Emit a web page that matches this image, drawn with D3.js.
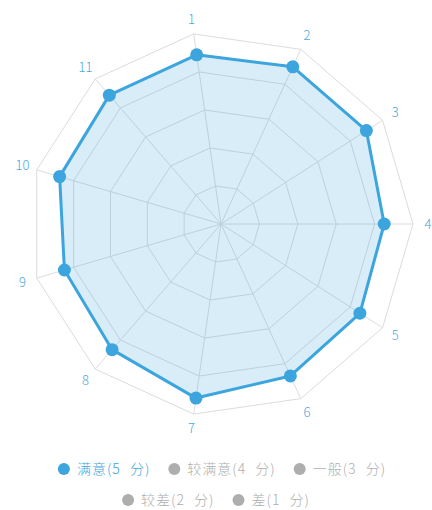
<!DOCTYPE html>
<html lang="zh">
<head>
    <meta charset="UTF-8">
    <title>满意度雷达图</title>
    <script src="https://d3js.org/d3.v7.min.js"></script>
    <style>
        body { margin: 0; background: #fff; }
        text { font-family: "Noto Sans CJK SC", "Noto Sans", sans-serif; }
    </style>
</head>
<body>
    <svg width="432" height="510"></svg>
    <script>
        // axes 1..11, scores out of 5
        const axes = ["1", "2", "3", "4", "5", "6", "7", "8", "9", "10", "11"];
        const scores = [4.45, 4.5, 4.5, 4.25, 4.3, 4.35, 4.58, 4.33, 4.25, 4.38, 4.44];
        const maxScore = 5;
        const levels = 5;

        const legendRow1 = ["满意(5 分)", "较满意(4 分)", "一般(3 分)"];
        const legendRow2 = ["较差(2 分)", "差(1 分)"];
        const activeLegend = "满意(5 分)";

        const blue = "#3da5dd";
        const labelBlue = "#4ba8dc";
        const gridColor = "#dcdcdc";
        const grey = "#aeaeae";

        const svg = d3.select("svg");
        const cx = 221, cy = 224, R = 192;

        // axis 4 points right, going clockwise
        const startAngle = 3 * 2 * Math.PI / axes.length;
        const angle = d3.scaleLinear().domain([0, axes.length]).range([startAngle, startAngle - 2 * Math.PI]);
        const r = d3.scaleLinear().domain([0, maxScore]).range([0, R]);

        const pt = (i, rad) => [cx + rad * Math.cos(angle(i)), cy - rad * Math.sin(angle(i))];

        // grid rings
        const g = svg.append("g");
        d3.range(1, levels + 1).forEach(l => {
            const ring = axes.map((a, i) => pt(i, r(l * maxScore / levels)));
            g.append("polygon")
                .attr("points", ring.map(p => p.join(",")).join(" "))
                .attr("fill", "none")
                .attr("stroke", gridColor)
                .attr("stroke-width", 1);
        });

        g.selectAll("line.spoke")
            .data(axes)
            .enter().append("line")
            .attr("class", "spoke")
            .attr("x1", cx).attr("y1", cy)
            .attr("x2", (d, i) => pt(i, R)[0])
            .attr("y2", (d, i) => pt(i, R)[1])
            .attr("stroke", gridColor)
            .attr("stroke-width", 1);

        // axis names
        g.selectAll("text.axis")
            .data(axes)
            .enter().append("text")
            .attr("class", "axis")
            .attr("x", (d, i) => pt(i, R + 15)[0])
            .attr("y", (d, i) => pt(i, R + 15)[1])
            .attr("text-anchor", "middle")
            .attr("dy", "0.35em")
            .attr("fill", labelBlue)
            .style("font-size", "13px")
            .style("font-weight", 300)
            .text(d => d);

        // data area
        const dataPts = scores.map((v, i) => pt(i, r(v)));
        svg.append("polygon")
            .attr("points", dataPts.map(p => p.join(",")).join(" "))
            .attr("fill", blue)
            .attr("fill-opacity", 0.2)
            .attr("stroke", blue)
            .attr("stroke-width", 3)
            .attr("stroke-linejoin", "round");

        svg.append("g").selectAll("circle")
            .data(dataPts)
            .enter().append("circle")
            .attr("cx", d => d[0])
            .attr("cy", d => d[1])
            .attr("r", 6.5)
            .attr("fill", blue);

        // legend, each row centred
        function legendRow(items, y, centre) {
            const row = svg.append("g");
            let x = 0;
            items.forEach(name => {
                const on = name === activeLegend;
                const item = row.append("g").attr("transform", `translate(${x},0)`);
                item.append("circle")
                    .attr("cx", 6).attr("cy", y).attr("r", 6)
                    .attr("fill", on ? blue : grey);
                const t = item.append("text")
                    .attr("x", 19).attr("y", y)
                    .attr("dy", "0.35em")
                    .attr("fill", on ? blue : grey)
                    .style("font-size", "14px")
                    .style("font-weight", 300)
                    .style("letter-spacing", "1px")
                    .style("word-spacing", "5px")
                    .text(name);
                x += 19 + t.node().getBBox().width + 18;
            });
            const w = x - 18;
            row.attr("transform", `translate(${centre - w / 2},0)`);
        }
        legendRow(legendRow1, 469, 222);
        legendRow(legendRow2, 500, 216);
    </script>
</body>
</html>
